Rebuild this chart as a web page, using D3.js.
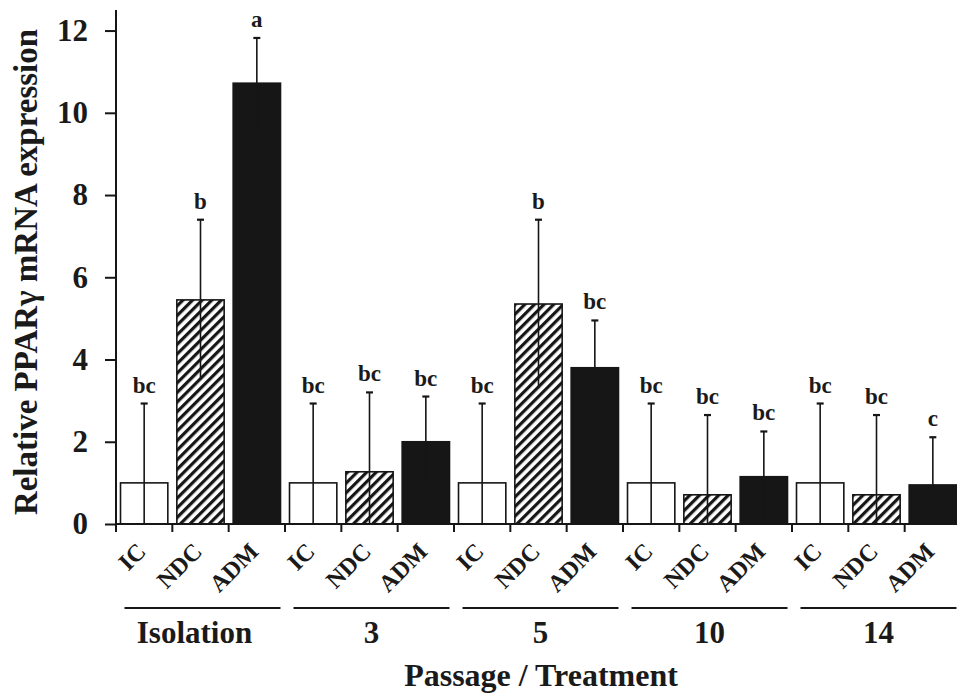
<!DOCTYPE html>
<html>
<head>
<meta charset="utf-8">
<script src="https://cdn.jsdelivr.net/npm/d3@7/dist/d3.min.js"></script>
<style>
  html, body { margin: 0; padding: 0; background: #fff; }
  svg { display: block; }
  text { font-family: "Liberation Serif", "Times New Roman", serif; font-weight: bold; fill: #1a1a1a; }
</style>
</head>
<body>
<svg id="chart" width="957" height="700"></svg>
<script>
// ---- data ----
const groups = ["Isolation", "3", "5", "10", "14"];
const treatments = ["IC", "NDC", "ADM"];
const means   = [1.00, 5.45, 10.72,  1.00, 1.27, 2.00,  1.00, 5.35, 3.80,  1.00, 0.71, 1.15,  1.00, 0.71, 0.95];
const sds     = [1.93, 1.95, 1.10,   1.93, 1.93, 1.10,  1.93, 2.05, 1.15,  1.93, 1.94, 1.10,  1.93, 1.94, 1.16];
const letters = ["bc", "b", "a",     "bc", "bc", "bc",  "bc", "b", "bc",   "bc", "bc", "bc",  "bc", "bc", "c"];
const yTicks = [0, 2, 4, 6, 8, 10, 12];
const yTitle = "Relative PPARγ mRNA expression";
const xTitle = "Passage / Treatment";

const rows = [];
groups.forEach((g, gi) => treatments.forEach((t, ti) => {
  const i = gi * treatments.length + ti;
  rows.push({ key: g + "|" + t, group: g, treat: t, mean: means[i], sd: sds[i], letter: letters[i] });
}));

const svg = d3.select("#chart");
const ink = "#161616";

// hatch pattern
const defs = svg.append("defs");
const pat = defs.append("pattern")
  .attr("id", "hatch").attr("patternUnits", "userSpaceOnUse")
  .attr("width", 6.8).attr("height", 10)
  .attr("patternTransform", "rotate(45)");
pat.append("rect").attr("width", 6.8).attr("height", 10).attr("fill", "#fff");
pat.append("line").attr("x1", 1.6).attr("y1", 0).attr("x2", 1.6).attr("y2", 10)
  .attr("stroke", ink).attr("stroke-width", 3.2);

const plotLeft = 116, plotRight = 961, plotBase = 524, plotTop = 10;
const x = d3.scaleBand().domain(rows.map(d => d.key)).range([plotLeft, plotRight])
  .paddingInner(0.16).paddingOuter(0.08);
const y = d3.scaleLinear().domain([0, 12.5]).range([plotBase, plotTop]);
const step = x.step();

const fillFor = t => t === "IC" ? "#fff" : (t === "NDC" ? "url(#hatch)" : ink);

// bars
svg.append("g").selectAll("rect").data(rows).join("rect")
  .attr("x", d => x(d.key))
  .attr("y", d => y(d.mean))
  .attr("width", x.bandwidth())
  .attr("height", d => y(0) - y(d.mean))
  .attr("fill", d => fillFor(d.treat))
  .attr("stroke", ink).attr("stroke-width", 1.6);

// error bars
const eb = svg.append("g").attr("stroke", ink).attr("stroke-width", 1.6);
rows.forEach(d => {
  const cx = x(d.key) + x.bandwidth() / 2;
  const lo = Math.max(0, d.mean - d.sd), hi = d.mean + d.sd;
  eb.append("line").attr("x1", cx).attr("x2", cx).attr("y1", y(lo)).attr("y2", y(hi));
  eb.append("line").attr("x1", cx - 3.5).attr("x2", cx + 3.5).attr("y1", y(hi)).attr("y2", y(hi)).attr("stroke-width", 2.2);
});

// significance letters
svg.append("g").selectAll("text").data(rows).join("text")
  .attr("x", d => x(d.key) + x.bandwidth() / 2)
  .attr("y", d => y(d.mean + d.sd) - 11)
  .attr("text-anchor", "middle")
  .style("font-size", "23px")
  .text(d => d.letter);

// y axis
const yAxis = d3.axisLeft(y).tickValues(yTicks).tickSize(11).tickPadding(17).tickFormat(d3.format("d"));
const yg = svg.append("g").attr("transform", `translate(${plotLeft},0)`).call(yAxis);
yg.select(".domain").remove();
yg.append("line").attr("x1", 0).attr("x2", 0).attr("y1", plotTop).attr("y2", plotBase).attr("stroke", ink).attr("stroke-width", 2);
yg.selectAll(".tick line").attr("stroke", ink).attr("stroke-width", 2);
yg.selectAll(".tick text").style("font-size", "31px").attr("fill", ink)
  .style("font-family", "'Liberation Serif', 'Times New Roman', serif").style("font-weight", "bold");

// x axis baseline and boundary ticks
const xg = svg.append("g");
xg.append("line").attr("x1", plotLeft).attr("x2", 957).attr("y1", plotBase).attr("y2", plotBase).attr("stroke", ink).attr("stroke-width", 2);
d3.range(rows.length + 1).forEach(i => {
  const tx = plotLeft + i * step;
  xg.append("line").attr("x1", tx).attr("x2", tx).attr("y1", plotBase).attr("y2", plotBase + 8).attr("stroke", ink).attr("stroke-width", 2);
});

// category labels (rotated)
svg.append("g").selectAll("text").data(rows).join("text")
  .attr("transform", d => `translate(${x(d.key) + x.bandwidth() / 2 + 3},553) rotate(-45)`)
  .attr("text-anchor", "end")
  .style("font-size", "24px")
  .text(d => d.treat);

// group lines and labels
const gw = step * treatments.length;
groups.forEach((g, gi) => {
  const g0 = plotLeft + gi * gw, g1 = g0 + gw;
  const cx = (g0 + g1) / 2 + 2;
  svg.append("line").attr("x1", cx - 78).attr("x2", Math.min(cx + 78, 957)).attr("y1", 608).attr("y2", 608)
    .attr("stroke", ink).attr("stroke-width", 2);
  svg.append("text").attr("x", gi === 0 ? cx - 8 : cx).attr("y", 643).attr("text-anchor", "middle")
    .style("font-size", "31px").text(g);
});

// axis titles
svg.append("text").attr("x", 541).attr("y", 686).attr("text-anchor", "middle")
  .style("font-size", "32px").text(xTitle);
svg.append("text").attr("transform", "translate(37,272) rotate(-90)").attr("text-anchor", "middle")
  .style("font-size", "33px").text(yTitle);
</script>
</body>
</html>
